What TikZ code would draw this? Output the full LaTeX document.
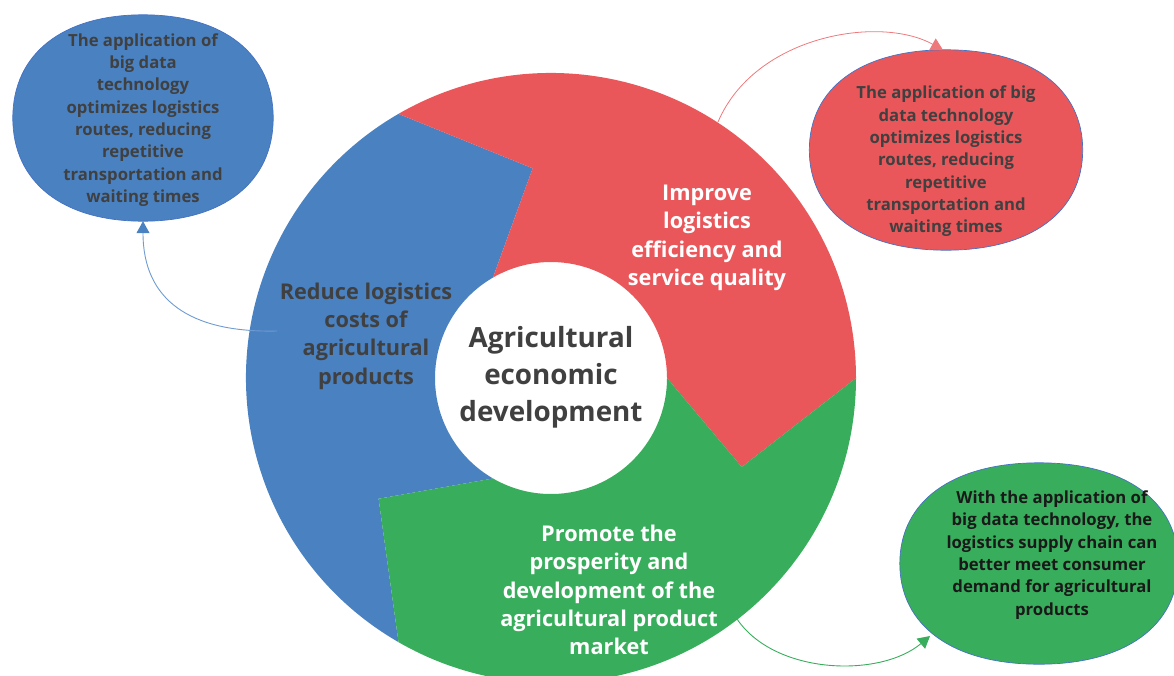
\documentclass[tikz,border=0pt]{standalone}
\usepackage{fontspec}
\setmainfont{Open Sans}
\usetikzlibrary{arrows.meta,calc}
\definecolor{segblue}{HTML}{4A81C1}
\definecolor{segred}{HTML}{E9575B}
\definecolor{seggreen}{HTML}{38AE5C}
\definecolor{darktext}{HTML}{404040}
\definecolor{edgeblue}{HTML}{4472C4}
\definecolor{lineblue}{HTML}{6F9BD3}
\newcommand\bubshape[2]{%
  \filldraw[#2] (#1.east)
   .. controls ($(#1.east)!0.62!(#1.north east)$) and ($(#1.north)!0.62!(#1.north east)$) .. (#1.north)
   .. controls ($(#1.north)!0.62!(#1.north west)$) and ($(#1.west)!0.62!(#1.north west)$) .. (#1.west)
   .. controls ($(#1.west)!0.62!(#1.south west)$) and ($(#1.south)!0.62!(#1.south west)$) .. (#1.south)
   .. controls ($(#1.south)!0.62!(#1.south east)$) and ($(#1.east)!0.62!(#1.south east)$) .. (#1.east) -- cycle;}
\begin{document}
\begin{tikzpicture}[x=1pt,y=-1pt,
  seglabel/.style={font=\bfseries\fontsize{21.7}{28.3}\selectfont, align=center, inner sep=0pt},
  hublabel/.style={font=\bfseries\fontsize{27.8}{37}\selectfont, align=center, inner sep=0pt, text=darktext},
  bubtext/.style={font=\bfseries\fontsize{16.7}{22.3}\selectfont, align=center, inner sep=0pt},
  bubframe/.style={rectangle, draw=none, inner sep=0pt},
  bubfill/.style={draw=edgeblue, line width=0.7pt},
  conn/.style={line width=0.9pt, -{Triangle[width=13pt,length=12pt]}}
]
\clip (0,0) rectangle (1174,675);
% ring segments
\begin{scope}[shift={(551,378)}, yscale=-1]
  \fill[segblue] (240:305) arc[start angle=240,end angle=120,radius=305] -- (95:210.5) -- (120:116)
     arc[start angle=120,end angle=240,radius=116] -- (215:210.5) -- cycle;
  \fill[segred] (120:305) arc[start angle=120,end angle=0,radius=305] -- (-25:210.5) -- (0:116)
     arc[start angle=0,end angle=120,radius=116] -- (95:210.5) -- cycle;
  \fill[seggreen] (0:305) arc[start angle=0,end angle=-120,radius=305] -- (-145:210.5) -- (-120:116)
     arc[start angle=-120,end angle=0,radius=116] -- (-25:210.5) -- cycle;
\end{scope}
% labels on ring
\node[hublabel] (hub) at (551,377) {Agricultural\\economic\\development};
\node[seglabel, text=darktext] (lblue) at (366,336) {Reduce logistics\\costs of\\agricultural\\products};
\node[seglabel, text=white] (lred) at (707,238) {Improve\\logistics\\efficiency and\\service quality};
\node[seglabel, text=white] (lgreen) at (609,590) {Promote the\\prosperity and\\development of the\\agricultural product\\market};
% bubbles
\node[bubframe, minimum width=260, minimum height=206] (bblue) at (143,118) {};
\node[bubframe, minimum width=273, minimum height=200] (bred) at (946,150) {};
\node[bubframe, minimum width=278, minimum height=201] (bgreen) at (1039,563.5) {};
\bubshape{bblue}{bubfill, fill=segblue}
\bubshape{bred}{bubfill, fill=segred}
\bubshape{bgreen}{bubfill, fill=seggreen}
\node[bubtext, text=darktext] (tblue) at (143,120) {The application of\\big data\\technology\\optimizes logistics\\routes, reducing\\repetitive\\transportation and\\waiting times};
\node[bubtext, text=darktext] (tred) at (946,161.5) {The application of big\\data technology\\optimizes logistics\\routes, reducing\\repetitive\\transportation and\\waiting times};
\node[bubtext, text=black!90] (tgreen) at (1052,555) {With the application of\\big data technology, the\\logistics supply chain can\\better meet consumer\\demand for agricultural\\products};
% connectors
\coordinate (sblue) at (277,331);
\coordinate (sred) at (718,122);
\coordinate (sgreen) at (737,619);
\draw[line width=0.9pt, draw=lineblue, -{Triangle[width=13pt,length=12pt,color=segblue]}] (sblue) .. controls (190,333) and (143,300) .. (bblue.south);
\draw[conn, draw=segred!80, line width=0.8pt] (sred) .. controls (755,35) and (880,15) .. (943,50);
\draw[conn, draw=seggreen] (sgreen) .. controls (775,675) and (880,678) .. (930,636);
\end{tikzpicture}
\end{document}
